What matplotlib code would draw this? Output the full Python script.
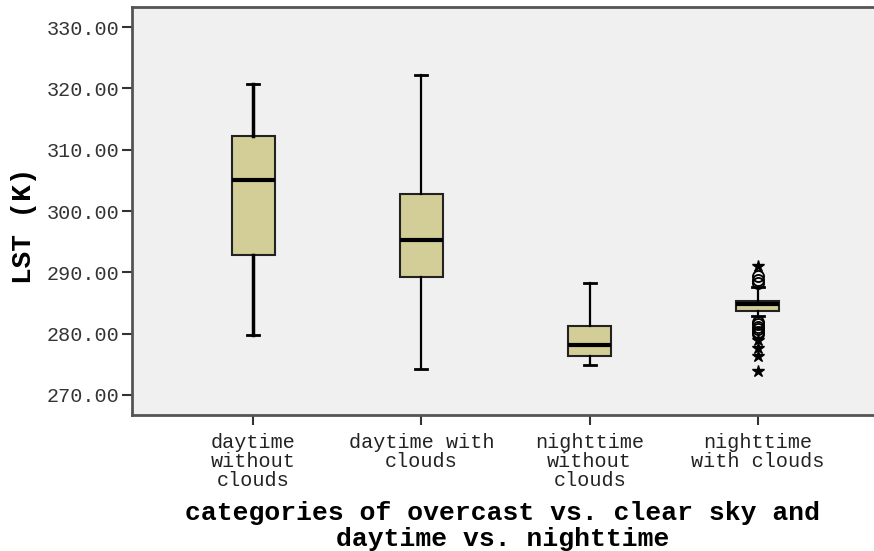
import matplotlib
matplotlib.use("Agg")
import matplotlib.pyplot as plt

# Data
categories = ["daytime\nwithout\nclouds", "daytime with\nclouds",
              "nighttime\nwithout\nclouds", "nighttime\nwith clouds"]
whislo = [279.7, 274.3, 274.8, 282.8]
q1 = [292.8, 289.2, 276.3, 283.7]
med = [305.0, 295.3, 278.1, 284.8]
q3 = [312.3, 302.8, 281.2, 285.4]
whishi = [320.8, 322.2, 288.3, 287.6]

# outliers of the last box: circles = outliers, stars = extremes
circle_vals = [288.3, 288.8, 289.4, 279.9, 280.3, 280.7, 281.1, 281.5, 281.9]
star_vals = [291.0, 278.9, 277.6, 276.4, 273.9]

box_color = "#d3ce97"
font = ["Liberation Mono", "DejaVu Sans Mono"]

fig = plt.figure(figsize=(8.74, 5.51), dpi=100)
ax = fig.add_axes([0.151, 0.247, 0.849, 0.740])
ax.set_facecolor("#f0f0f0")

stats = []
for i in range(len(categories)):
    stats.append(dict(whislo=whislo[i], q1=q1[i], med=med[i], q3=q3[i],
                      whishi=whishi[i], fliers=[]))

bp = ax.bxp(stats, positions=[1, 2, 3, 4], widths=0.255, patch_artist=True,
            showfliers=False,
            boxprops=dict(facecolor=box_color, edgecolor="#222222", linewidth=1.5),
            medianprops=dict(color="black", linewidth=3),
            whiskerprops=dict(color="black", linewidth=1.6),
            capprops=dict(color="black", linewidth=2))
for c in bp["caps"]:
    x0, x1 = c.get_xdata()
    m = (x0 + x1) / 2
    c.set_xdata([m - 0.035, m + 0.035])
# first box drawn with heavier whiskers
for w in bp["whiskers"][:2]:
    w.set_linewidth(2.5)

ax.plot([4] * len(circle_vals), circle_vals, linestyle="none", marker="o",
        markersize=8, markerfacecolor="none", markeredgecolor="black", markeredgewidth=1.3)
ax.plot([4] * len(star_vals), star_vals, linestyle="none", marker="*",
        markersize=9, color="black")

ax.set_xlim(0.28, 4.69)
ax.set_ylim(266.74, 333.26)
ax.set_yticks([270, 280, 290, 300, 310, 320, 330])
ax.set_yticklabels(["%.2f" % v for v in [270, 280, 290, 300, 310, 320, 330]],
                   family=font, fontsize=14.5, color="#333333")
ax.set_xticks([1, 2, 3, 4])
ax.set_xticklabels(categories, family=font, fontsize=14.5, color="#222222",
                   linespacing=1.0)
ax.tick_params(axis="y", length=7, width=1.5, color="#333333", pad=2)
ax.tick_params(axis="x", length=7, width=1.5, color="#333333", pad=6)

for s in ["left", "top", "bottom"]:
    ax.spines[s].set_color("#555555")
    ax.spines[s].set_linewidth(2)
ax.spines["right"].set_visible(False)

ax.set_ylabel("LST (K)", family=font, fontsize=20, fontweight="bold")
ax.yaxis.set_label_coords(-0.128, 0.463)
ax.set_xlabel("categories of overcast vs. clear sky and\ndaytime vs. nighttime",
              family=font, fontsize=19, fontweight="bold", labelpad=8,
              linespacing=1.1)

fig.savefig("out.png", dpi=100)
